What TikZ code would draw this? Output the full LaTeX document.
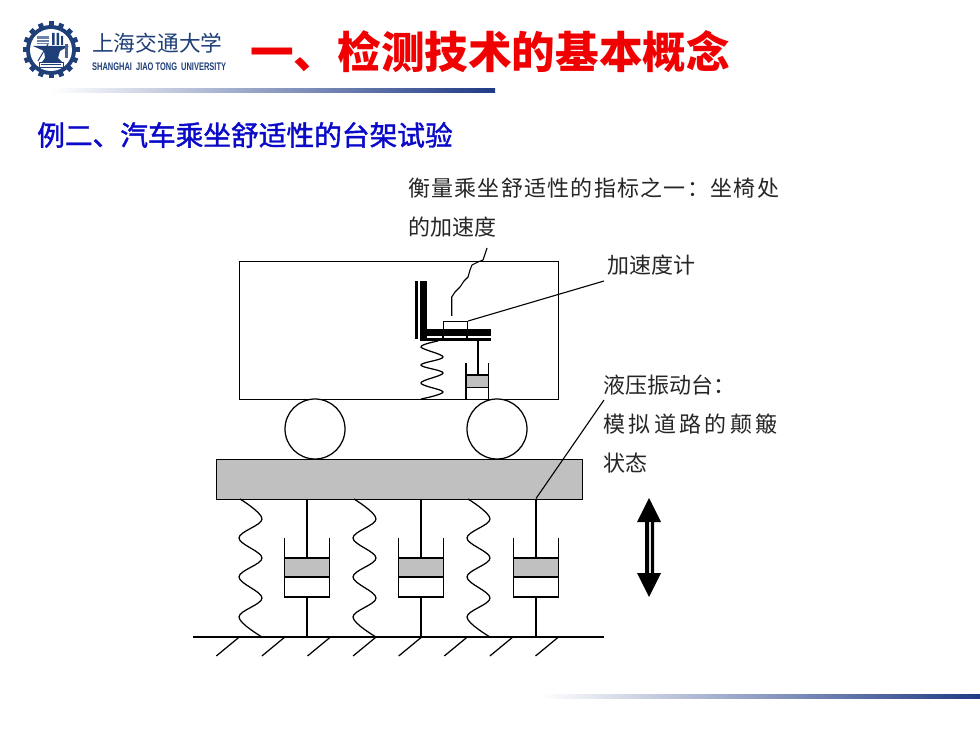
\documentclass[tikz,border=0pt]{standalone}
\usepackage{fontspec}
\usetikzlibrary{calc}
\setmainfont{Liberation Sans}
\newfontfamily\cjk{Noto Sans CJK SC}
\newfontfamily\cjks[FakeBold=1.5]{Noto Sans CJK SC}
\newfontfamily\cjka[LetterSpace=5.7]{Noto Sans CJK SC}
\newfontfamily\cjkc[LetterSpace=15.5]{Noto Sans CJK SC}
\definecolor{navy}{HTML}{1F3A85}
\definecolor{midgrey}{HTML}{B0B3BC}
\definecolor{logoblue}{HTML}{1E3F78}
\definecolor{subblue}{HTML}{0A0AC8}
\definecolor{pgrey}{HTML}{C0C0C0}
\tikzset{
  x=1pt,y=-1pt,
  part/.style={draw=black,line width=1.25pt},
  thin line/.style={draw=black,line width=1.1pt},
  label text/.style={anchor=west,inner sep=0pt,text=black!85,font=\fontsize{22}{22}\selectfont},
  wave/.style={draw=black,line width=1.25pt,smooth,tension=0.6},
  rule bar/.style={left color=white,middle color=midgrey,right color=navy}
}
\newcommand{\dampermain}[1]{%
  \begin{scope}[xshift=#1pt]
    \fill[pgrey] (-22.5,558) rectangle (22.5,577);
    \draw[part] (-22.5,538) -- (-22.5,597) -- (22.5,597) -- (22.5,538);
    \draw[part] (-22.5,558) -- (22.5,558) (-22.5,577) -- (22.5,577);
    \draw[part] (0,498.5) -- (0,558) (0,597) -- (0,637);
  \end{scope}}
\newcommand{\springmain}[1]{%
  \draw[wave,xshift=#1pt] plot coordinates {(240,499) (262,519) (239,538) (262,558) (239,577) (262,598) (239,617) (262,637)};}
\begin{document}
\begin{tikzpicture}
\useasboundingbox (0,0) rectangle (980,735);
\fill[white] (0,0) rectangle (980,735);

% header logo
\foreach \a in {0,22.5,...,359}{\fill[logoblue,rotate around={\a:(51,50)}] (48.5,21.5) rectangle (53.5,28);}
\fill[logoblue] (51,50) circle (25pt);
\fill[white] (51,50) circle (21pt);
\fill[logoblue!65] (37,36) rectangle (49,44);
\draw[white,line width=.7pt] (37,39) -- (49,39) (37,42) -- (49,42);
\fill[logoblue] (52,33) rectangle (54.5,45) (56.5,33) rectangle (59,45) (61,36) rectangle (63,45);
\fill[logoblue] (33,46) -- (69,46) -- (60,51) -- (58,58) -- (62,62) -- (42,62) -- (45,58) -- (44,51) -- cycle;
\draw[logoblue,line width=1pt] (48,44) -- (38,61);
\draw[logoblue,line width=.8pt,fill=white] (39,62.5) rectangle (63,67);
\fill[logoblue] (41,64) rectangle (61,65.5);
\fill[logoblue!80] (65,44) rectangle (67.5,58);
\node[inner sep=0pt,anchor=west,text=logoblue,font=\cjk\fontsize{21.7}{21.7}\selectfont] (school) at (92,43) {上海交通大学};
\node[inner sep=0pt,anchor=west,text=logoblue,xscale=.68,transform shape,font=\bfseries\fontsize{11}{11}\selectfont] (schoolen) at (92,67) {SHANGHAI\hspace{6pt}JIAO TONG\hspace{6pt}UNIVERSITY};

\node[inner sep=0pt,anchor=west,text={rgb,255:red,240;green,0;blue,0},font=\cjk\bfseries\fontsize{43.6}{43.6}\selectfont] (title) at (250,52) {一、检测技术的基本概念};
\shade[rule bar] (50,89) rectangle (495,93);
\shade[rule bar] (540,694) rectangle (980,698);
\node[inner sep=0pt,anchor=west,text=subblue,font=\cjks\fontsize{27.7}{27.7}\selectfont] (sub) at (37,135) {例二、汽车乘坐舒适性的台架试验};

% labels
\node[label text] (l1) at (408,188) {\cjka 衡量乘坐舒适性的指标之一：坐椅处};
\node[label text] (l2) at (408,227) {\cjk 的加速度};
\node[label text] (acc) at (607,265) {\cjk 加速度计};
\node[label text] (l3) at (603,385) {\cjk 液压振动台：};
\node[label text] (l4) at (603,424) {\cjkc 模拟道路的颠簸};
\node[label text] (l5) at (603,463) {\cjk 状态};

% car body
\node[draw=black,line width=1.25pt,minimum width=319pt,minimum height=138pt,inner sep=0pt,anchor=north west] (car) at (239,261) {};
% wheels
\node[circle,draw=black,line width=1.25pt,fill=white,minimum size=60pt,inner sep=0pt] (w1) at (315,429) {};
\node[circle,draw=black,line width=1.25pt,fill=white,minimum size=60pt,inner sep=0pt] (w2) at (497,429) {};
% platform
\node[draw=black,line width=1.25pt,fill=pgrey,minimum width=366pt,minimum height=39.5pt,inner sep=0pt,anchor=north west] (table) at (216,459) {};

% seat
\fill[black] (415,281) rectangle (418,339);
\fill[black] (420,281) rectangle (427,336);
\fill[black] (420,329) rectangle (491,336);
\fill[black] (420,338) rectangle (491,341);
\fill[black] (420,336) rectangle (427,340);
% accelerometer
\node[draw=black,line width=1.1pt,fill=white,minimum width=24pt,minimum height=8pt,inner sep=0pt,anchor=north west] (sensor) at (443,321) {};
\draw[thin line] (443,329) -- (443,339) (467,329) -- (467,339);
\coordinate (accend) at (604,281);
\draw[thin line] (sensor.north east) -- (accend);
\draw[thin line] (451.7,316) -- (451.7,297) -- (455,292) -- (460,287) -- (464,281) -- (468,277) -- (470,270) -- (472,265) -- (478,262) -- (483,260) -- (487,248);
% seat spring and damper
\draw[wave] plot coordinates {(438,341) (421,347) (443,357) (421,365) (443,373) (421,383) (443,392) (421,399)};
\fill[pgrey] (466,375) rectangle (488.5,387.5);
\draw[part] (466,363) -- (466,399) (488.5,363) -- (488.5,399);
\draw[part] (466,375) -- (488.5,375) (466,387.5) -- (488.5,387.5);
\draw[part] (478,341) -- (478,375);

% suspension
\springmain{0}\springmain{114}\springmain{228}
\dampermain{307}\dampermain{421}\dampermain{536}
\coordinate (groundl) at (193,637);
\coordinate (groundr) at (604,637);
\draw[part] (groundl) -- (groundr);
\foreach \k in {0,...,7}{\draw[part] ({239.3+45.6*\k},637) -- ({216.3+45.6*\k},656);}
% leader
\coordinate (leadtop) at (604,400);
\coordinate (leadbot) at (536,498.5);
\draw[thin line] (leadtop) -- (leadbot);

% double arrow
\fill[black] (649,498) -- (661,522) -- (654,522) -- (654,573) -- (661,573) -- (649,597) -- (637,573) -- (645,573) -- (645,522) -- (637,522) -- cycle;
\fill[pgrey!50] (648.5,522) rectangle (650.5,573);
\end{tikzpicture}
\end{document}
